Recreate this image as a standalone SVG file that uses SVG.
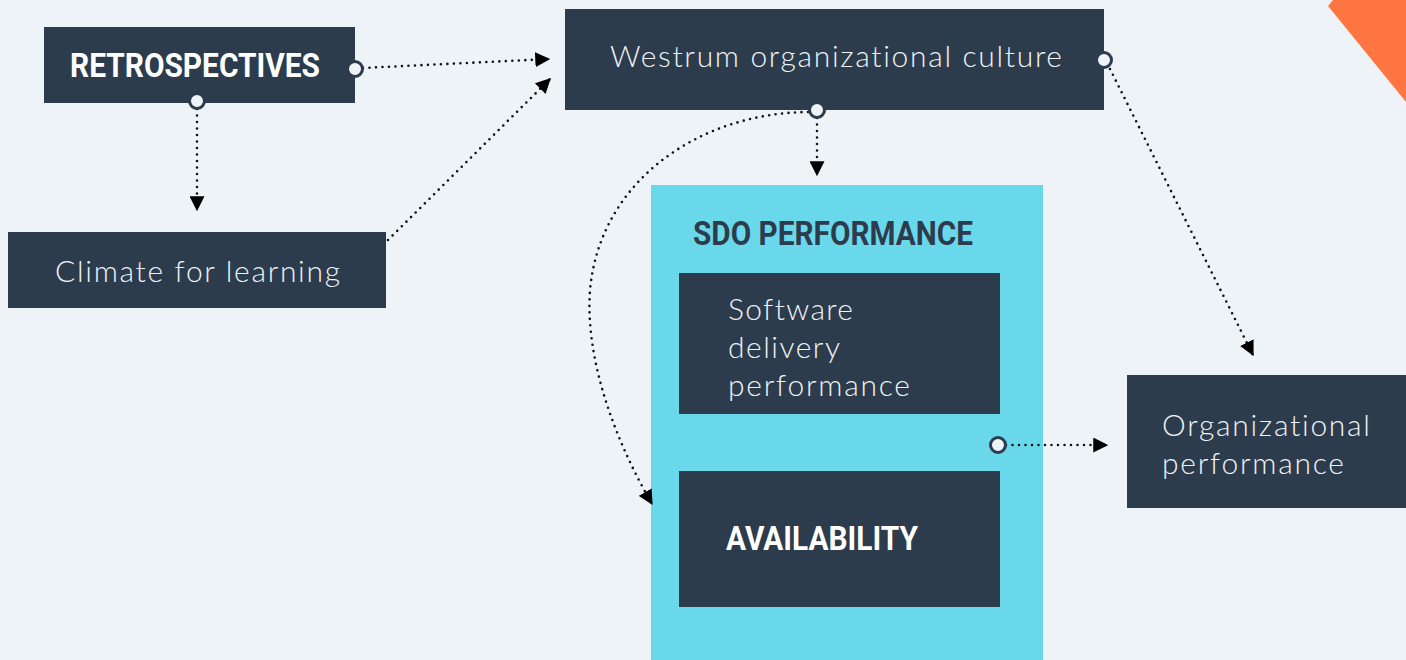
<svg xmlns="http://www.w3.org/2000/svg" width="1406" height="660" viewBox="0 0 1406 660">
<style>
.node{fill:#2d3c4c}
.light{font-family:Lato,"Noto Sans","Liberation Sans",sans-serif;font-weight:300;font-size:30px;fill:#eef3f7;font-variant-ligatures:none;font-feature-settings:"liga" 0,"clig" 0,"dlig" 0}
.bold{font-family:Roboto,"Liberation Sans",sans-serif;font-weight:700;font-size:33px;fill:#ffffff}
.link{fill:none;stroke:#111;stroke-width:2.6;stroke-linecap:round;stroke-dasharray:0 6.5;marker-end:url(#ah)}
.port{fill:#eef3f7;stroke:#2d3c4c;stroke-width:3}
</style>
<defs>
<marker id="ah" viewBox="0 0 12 12" refX="11" refY="6" markerWidth="15" markerHeight="15" markerUnits="userSpaceOnUse" orient="auto">
<path d="M0,0 L12,6 L0,12 z" fill="#000"/>
</marker>
</defs>
<rect width="1406" height="660" fill="#eef3f7"/>
<polygon points="1333,0 1406,0 1406,102 1328,6" fill="#ff7643"/>
<g id="sdo-performance">
<rect x="651" y="185" width="392" height="475" fill="#6ad8eb"/>
<text x="693" y="245" class="bold" style="fill:#2d3c4c" textLength="280" lengthAdjust="spacingAndGlyphs">SDO PERFORMANCE</text>
</g>
<g id="retrospectives">
<rect class="node" x="44" y="27" width="311" height="76"/>
<text x="70" y="77" class="bold" textLength="250" lengthAdjust="spacingAndGlyphs">RETROSPECTIVES</text>
</g>
<g id="climate">
<rect class="node" x="8" y="232" width="378" height="76"/>
<text x="55" y="282" class="light" textLength="285" lengthAdjust="spacing">Climate for learning</text>
</g>
<g id="westrum">
<rect class="node" x="565" y="9" width="539" height="101"/>
<text x="610" y="67" class="light" textLength="452" lengthAdjust="spacing">Westrum organizational culture</text>
</g>
<g id="software-delivery">
<rect class="node" x="679" y="273" width="321" height="141"/>
<text class="light"><tspan x="728" y="320" textLength="125" lengthAdjust="spacing">Software</tspan><tspan x="728" y="358" textLength="112" lengthAdjust="spacing">delivery</tspan><tspan x="728" y="396" textLength="182" lengthAdjust="spacing">performance</tspan></text>
</g>
<g id="availability">
<rect class="node" x="679" y="471" width="321" height="136"/>
<text x="726" y="550" class="bold" textLength="192" lengthAdjust="spacingAndGlyphs">AVAILABILITY</text>
</g>
<g id="organizational-performance">
<rect class="node" x="1127" y="375" width="279" height="133"/>
<text class="light"><tspan x="1162" y="436" textLength="208" lengthAdjust="spacing">Organizational</tspan><tspan x="1162" y="474" textLength="182" lengthAdjust="spacing">performance</tspan></text>
</g>
<g id="connectors">
<path class="link" d="M363,68 L549,59"/>
<path class="link" d="M197,109 L197,210"/>
<path class="link" d="M388,240 L550,79"/>
<path class="link" d="M817,118 L817,175"/>
<path class="link" d="M808,112 C700,113 600,180 590,290 C585,360 615,440 652,504"/>
<path class="link" d="M1110,69 L1253,355"/>
<path class="link" d="M1006,445 L1107,445"/>
<circle class="port" cx="355" cy="69" r="7.5"/>
<circle class="port" cx="197" cy="101" r="7.5"/>
<circle class="port" cx="1104" cy="60" r="7.5"/>
<circle class="port" cx="817" cy="110" r="7.5"/>
<circle class="port" cx="998" cy="445" r="7.5"/>
</g>
</svg>
